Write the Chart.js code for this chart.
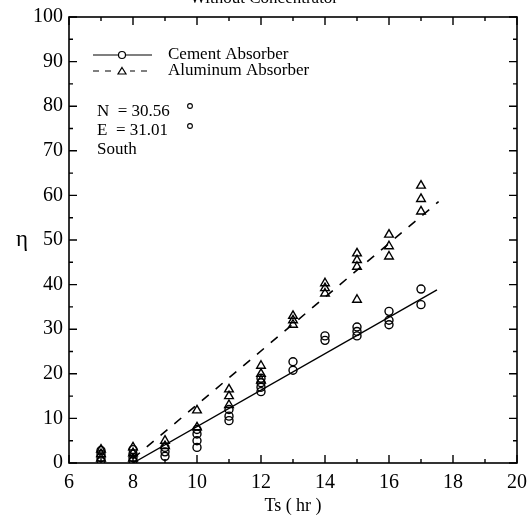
<!DOCTYPE html>
<html>
<head>
<meta charset="utf-8">
<script src="https://cdn.jsdelivr.net/npm/chart.js@4"></script>
<style>
  html, body { margin: 0; padding: 0; background: #fff; }
  #wrap { width: 529px; height: 517px; }
</style>
</head>
<body>
<div id="wrap"><canvas id="effChart" width="529" height="517"></canvas></div>
<script>
// measured points (Ts in hr, efficiency eta)
const cementX = [7, 7, 7, 7, 8, 8, 8, 8, 9, 9, 9, 10, 10, 10, 10, 11, 11, 11,
  12, 12, 12, 12, 13, 13, 14, 14, 15, 15, 15, 16, 16, 16, 17, 17];
const cementY = [0.5, 1.2, 2, 2.8, 0.5, 1.2, 2, 3, 1.5, 2.5, 3.5, 3.5, 5, 6.5, 7.5, 9.5, 10.5, 12,
  16, 17, 18, 19, 20.8, 22.7, 27.5, 28.5, 28.5, 29.5, 30.5, 31, 32, 34, 35.5, 39];

const aluminumX = [7, 7, 7, 8, 8, 8, 9, 9, 10, 10, 11, 11, 11, 12, 12, 12, 13, 13, 13,
  14, 14, 14, 15, 15, 15, 15, 16, 16, 16, 17, 17, 17];
const aluminumY = [1, 2, 3, 1, 2.2, 3.5, 3.8, 5, 8, 11.8, 13, 15, 16.5, 18.5, 20, 21.8, 31, 32, 33,
  38, 39.2, 40.3, 36.6, 44, 45.5, 47, 46.3, 48.6, 51.2, 56.4, 59.2, 62.2];

// fitted lines (end points)
const cementFitX = [8, 17.5];
const cementFitY = [0, 38.8];
const aluminumFitX = [8, 17.55];
const aluminumFitY = [1, 58.6];

const xTicks = [6, 8, 10, 12, 14, 16, 18, 20];
const yTicks = [0, 10, 20, 30, 40, 50, 60, 70, 80, 90, 100];

const SERIF = "'Liberation Serif', 'Times New Roman', serif";

function toPoints(xs, ys) {
  return xs.map((x, i) => ({ x: x, y: ys[i] }));
}

// inward ticks, frame, legend and notes
const decorPlugin = {
  id: 'decor',
  afterDraw(chart) {
    const ctx = chart.ctx;
    const a = chart.chartArea;
    const xs = chart.scales.x, ys = chart.scales.y;
    ctx.save();
    ctx.strokeStyle = '#000';
    ctx.lineWidth = 1.6;
    ctx.strokeRect(a.left, a.top, a.right - a.left, a.bottom - a.top);

    ctx.lineWidth = 1.4;
    for (let v = 6; v <= 20; v++) {
      const px = xs.getPixelForValue(v);
      const len = v % 2 === 0 ? 8 : 4;
      ctx.beginPath();
      ctx.moveTo(px, a.bottom); ctx.lineTo(px, a.bottom - len);
      ctx.moveTo(px, a.top); ctx.lineTo(px, a.top + len);
      ctx.stroke();
    }
    for (let v = 0; v <= 100; v += 5) {
      const py = ys.getPixelForValue(v);
      const len = v % 10 === 0 ? 8 : 4;
      ctx.beginPath();
      ctx.moveTo(a.left, py); ctx.lineTo(a.left + len, py);
      ctx.moveTo(a.right, py); ctx.lineTo(a.right - len, py);
      ctx.stroke();
    }

    // legend
    ctx.lineWidth = 1.2;
    ctx.beginPath();
    ctx.moveTo(93, 55); ctx.lineTo(152, 55);
    ctx.stroke();
    ctx.beginPath();
    ctx.arc(122, 55, 3.5, 0, Math.PI * 2);
    ctx.fillStyle = '#fff';
    ctx.fill();
    ctx.stroke();

    ctx.setLineDash([6, 6]);
    ctx.beginPath();
    ctx.moveTo(93, 71); ctx.lineTo(152, 71);
    ctx.stroke();
    ctx.setLineDash([]);
    ctx.fillStyle = '#fff';
    ctx.fillRect(114, 65, 16, 12);
    ctx.beginPath();
    ctx.moveTo(122, 67.5); ctx.lineTo(126, 74); ctx.lineTo(118, 74); ctx.closePath();
    ctx.stroke();

    ctx.fillStyle = '#000';
    ctx.font = '17px ' + SERIF;
    ctx.textBaseline = 'middle';
    ctx.textAlign = 'left';
    ctx.fillText('Cement Absorber', 168, 55);
    ctx.fillText('Aluminum Absorber', 168, 71);

    ctx.fillText('N  = 30.56', 97, 112);
    ctx.fillText('E  = 31.01', 97, 131);
    ctx.fillText('South', 97, 150);
    ctx.lineWidth = 1.1;
    ctx.beginPath(); ctx.arc(190, 106, 2.4, 0, Math.PI * 2); ctx.stroke();
    ctx.beginPath(); ctx.arc(190, 126, 2.4, 0, Math.PI * 2); ctx.stroke();

    // y axis symbol, upright
    ctx.font = '23px ' + SERIF;
    ctx.textAlign = 'center';
    ctx.fillText('\u03b7', 22, (a.top + a.bottom) / 2);

    // clipped heading at the very top
    ctx.font = '17px ' + SERIF;
    ctx.textBaseline = 'alphabetic';
    ctx.fillText('Without Concentrator', 264, 3);
    ctx.restore();
  }
};

const ctx = document.getElementById('effChart').getContext('2d');
new Chart(ctx, {
  type: 'scatter',
  data: {
    datasets: [
      {
        label: 'Cement Absorber',
        data: toPoints(cementX, cementY),
        pointStyle: 'circle',
        pointRadius: 4,
        borderColor: '#000',
        backgroundColor: 'rgba(255,255,255,0)',
        borderWidth: 1.4
      },
      {
        label: 'Aluminum Absorber',
        data: toPoints(aluminumX, aluminumY),
        pointStyle: 'triangle',
        pointRadius: 5,
        borderColor: '#000',
        backgroundColor: 'rgba(255,255,255,0)',
        borderWidth: 1.4
      },
      {
        type: 'line',
        label: 'cement fit',
        data: toPoints(cementFitX, cementFitY),
        borderColor: '#000',
        borderWidth: 1.4,
        pointRadius: 0,
        fill: false
      },
      {
        type: 'line',
        label: 'aluminum fit',
        data: toPoints(aluminumFitX, aluminumFitY),
        borderColor: '#000',
        borderWidth: 1.6,
        borderDash: [9, 9],
        pointRadius: 0,
        fill: false
      }
    ]
  },
  options: {
    responsive: false,
    animation: false,
    layout: { padding: { top: 17, right: 12, left: 0, bottom: 0 } },
    plugins: {
      legend: { display: false },
      tooltip: { enabled: false },
      title: { display: false }
    },
    scales: {
      x: {
        type: 'linear',
        min: 6, max: 20,
        afterBuildTicks: s => { s.ticks = xTicks.map(v => ({ value: v })); },
        afterFit: s => { s.height = 54; s.paddingLeft = 0; s.paddingRight = 0; },
        grid: { drawOnChartArea: false, drawTicks: false },
        border: { display: false },
        ticks: { color: '#000', padding: 8, font: { family: SERIF, size: 20 } },
        title: {
          display: true, text: 'Ts ( hr )', color: '#000', padding: { top: 0, bottom: 0 },
          font: { family: SERIF, size: 18 }
        }
      },
      y: {
        type: 'linear',
        min: 0, max: 100,
        afterBuildTicks: s => { s.ticks = yTicks.map(v => ({ value: v })); },
        afterFit: s => { s.width = 69; s.paddingTop = 0; s.paddingBottom = 0; },
        grid: { drawOnChartArea: false, drawTicks: false },
        border: { display: false },
        ticks: { color: '#000', padding: 6, font: { family: SERIF, size: 20 } }
      }
    }
  },
  plugins: [decorPlugin]
});
</script>
</body>
</html>
